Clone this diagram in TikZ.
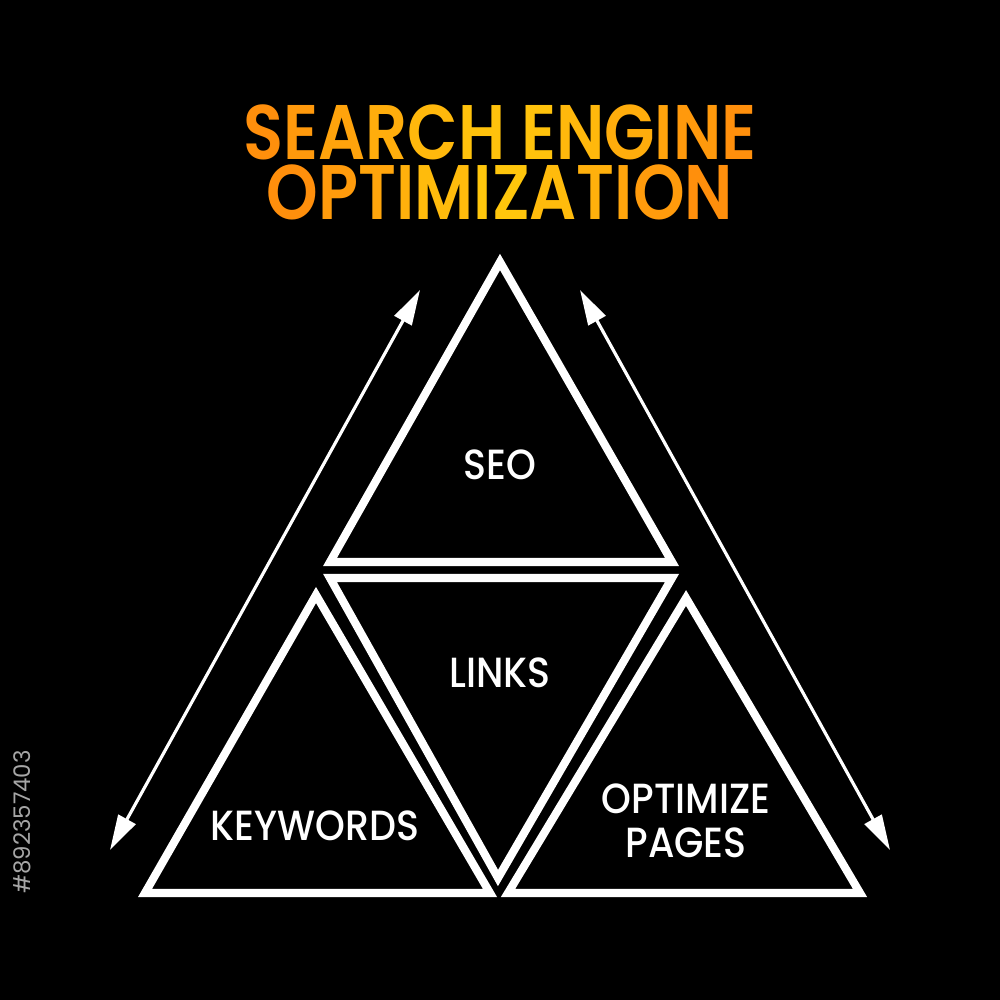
\documentclass[tikz,border=0pt]{standalone}
\usepackage{fontspec}
\setmainfont{Poppins}
\newfontfamily\medfont{Poppins Medium}
\newfontfamily\semifont{Poppins SemiBold}
\usetikzlibrary{arrows.meta}

\definecolor{titleorange}{HTML}{FF8A0C}
\definecolor{titleyellow}{HTML}{FFCC0C}

% letters shaded from orange at the ends to yellow in the middle
\newcommand{\gradword}[2]{%
  \foreach \ch [count=\i] in {#2}{%
    \pgfmathtruncatemacro{\p}{100-200*abs(\i-(#1+1)/2)/(#1)}%
    \textcolor{titleyellow!\p!titleorange}{\ch}}}

\tikzset{
  tri/.style={draw=white, line width=2.3pt, line join=miter},
  sidearrow/.style={draw=white, line width=0.9pt, {Triangle[length=10pt,width=5.5pt]}-{Triangle[length=10pt,width=5.5pt]}},
  label/.style={text=white, font=\medfont\fontsize{12}{12.5}\selectfont, align=center, xscale=0.9},
  title/.style={font=\semifont\fontsize{22}{17}\selectfont, align=center, xscale=0.85, inner sep=0pt, text depth=0pt}
}

\begin{document}
\begin{tikzpicture}
    % Background
    \fill[black] (0,0) rectangle (10,10);
    \useasboundingbox (0,0) rectangle (10,10);

    % Title
    \node[title] (title) at (5.00,8.375)
      {\gradword{13}{S,E,A,R,C,H,~,E,N,G,I,N,E}\\\gradword{12}{O,P,T,I,M,I,Z,A,T,I,O,N}};

    % Corners of the triangles
    \coordinate (seoTop) at (5.00,7.38);
    \coordinate (seoL) at (3.30,4.38);
    \coordinate (seoR) at (6.72,4.38);
    \coordinate (linksL) at (3.30,4.22);
    \coordinate (linksR) at (6.72,4.22);
    \coordinate (linksBot) at (4.98,1.22);
    \coordinate (keyTop) at (3.16,4.05);
    \coordinate (keyL) at (1.45,1.07);
    \coordinate (keyR) at (4.90,1.07);
    \coordinate (optTop) at (6.86,4.02);
    \coordinate (optL) at (5.08,1.07);
    \coordinate (optR) at (8.60,1.07);

    % Triangles
    \draw[tri] (seoTop) -- (seoL) -- (seoR) -- cycle;
    \draw[tri] (linksL) -- (linksR) -- (linksBot) -- cycle;
    \draw[tri] (keyTop) -- (keyL) -- (keyR) -- cycle;
    \draw[tri] (optTop) -- (optL) -- (optR) -- cycle;

    % Arrows along the sides
    \coordinate (leftUp) at (4.20,7.10);
    \coordinate (leftDown) at (1.10,1.50);
    \coordinate (rightUp) at (5.80,7.10);
    \coordinate (rightDown) at (8.90,1.50);
    \draw[sidearrow] (leftUp) -- (leftDown);
    \draw[sidearrow] (rightUp) -- (rightDown);

    % Labels
    \node[label] (seo) at (5.00,5.35) {SEO};
    \node[label] (links) at (5.00,3.27) {LINKS};
    \node[label] (keywords) at (3.15,1.74) {KEYWORDS};
    \node[label] (optimize) at (6.86,1.79) {OPTIMIZE\\PAGES};

    % Stock number
    \node[text=gray!70, rotate=90, font=\fontsize{6.5}{7}\selectfont] (stockid) at (0.22,1.78) {\#892357403};
\end{tikzpicture}
\end{document}
